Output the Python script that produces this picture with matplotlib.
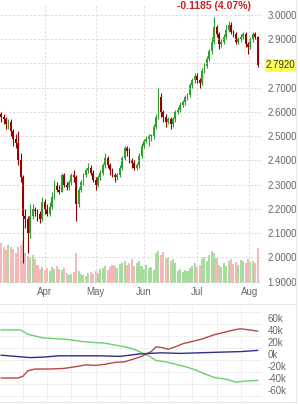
import matplotlib
matplotlib.use("Agg")
from matplotlib import pyplot as plt
from matplotlib.lines import Line2D
import numpy as np

plt.rcParams['font.family'] = ['Liberation Sans', 'DejaVu Sans']

# daily candles (index = trading day)
opens = [2.59, 2.58, 2.57, 2.55, 2.56, 2.52, 2.49, 2.47, 2.40, 2.33,
         2.17, 2.16, 2.10, 2.17, 2.20, 2.19, 2.18, 2.16, 2.23, 2.20,
         2.18, 2.21, 2.25, 2.30, 2.28, 2.27, 2.34, 2.30, 2.29, 2.31,
         2.34, 2.33, 2.22, 2.28, 2.31, 2.34, 2.36, 2.37, 2.35, 2.32,
         2.30, 2.33, 2.35, 2.38, 2.41, 2.38, 2.36, 2.34, 2.33, 2.34,
         2.37, 2.41, 2.45, 2.44, 2.40, 2.39, 2.37, 2.38, 2.42, 2.46,
         2.48, 2.49, 2.50, 2.50, 2.54, 2.58, 2.66, 2.60, 2.58, 2.56,
         2.57, 2.55, 2.57, 2.60, 2.61, 2.63, 2.64, 2.66, 2.67, 2.71,
         2.73, 2.75, 2.73, 2.72, 2.77, 2.79, 2.82, 2.85, 2.89, 2.95,
         2.92, 2.88, 2.89, 2.91, 2.94, 2.96, 2.93, 2.92, 2.89, 2.90,
         2.91, 2.92, 2.88, 2.87, 2.90, 2.92, 2.9105]
closes = [2.58, 2.57, 2.55, 2.56, 2.52, 2.49, 2.47, 2.40, 2.33, 2.17,
          2.16, 2.10, 2.17, 2.20, 2.19, 2.18, 2.16, 2.23, 2.20, 2.18,
          2.21, 2.25, 2.30, 2.28, 2.27, 2.34, 2.30, 2.29, 2.31, 2.34,
          2.33, 2.22, 2.28, 2.31, 2.34, 2.36, 2.37, 2.35, 2.32, 2.30,
          2.33, 2.35, 2.38, 2.41, 2.38, 2.36, 2.34, 2.33, 2.34, 2.37,
          2.41, 2.45, 2.44, 2.40, 2.39, 2.37, 2.38, 2.42, 2.46, 2.48,
          2.49, 2.50, 2.50, 2.54, 2.58, 2.66, 2.60, 2.58, 2.56, 2.57,
          2.55, 2.57, 2.60, 2.61, 2.63, 2.64, 2.66, 2.67, 2.71, 2.73,
          2.75, 2.73, 2.72, 2.77, 2.79, 2.82, 2.85, 2.89, 2.95, 2.92,
          2.88, 2.89, 2.91, 2.94, 2.96, 2.93, 2.92, 2.89, 2.90, 2.91,
          2.92, 2.88, 2.87, 2.90, 2.92, 2.9105, 2.792]
highs = [2.60, 2.59, 2.58, 2.57, 2.57, 2.53, 2.51, 2.52, 2.43, 2.34,
         2.20, 2.17, 2.22, 2.22, 2.21, 2.20, 2.19, 2.25, 2.24, 2.22,
         2.23, 2.27, 2.32, 2.31, 2.30, 2.35, 2.35, 2.31, 2.32, 2.35,
         2.36, 2.34, 2.29, 2.32, 2.35, 2.37, 2.39, 2.38, 2.36, 2.33,
         2.34, 2.36, 2.39, 2.43, 2.42, 2.39, 2.37, 2.35, 2.35, 2.38,
         2.42, 2.46, 2.46, 2.45, 2.41, 2.40, 2.39, 2.43, 2.47, 2.49,
         2.50, 2.51, 2.51, 2.55, 2.59, 2.70, 2.68, 2.61, 2.59, 2.58,
         2.58, 2.58, 2.61, 2.62, 2.64, 2.65, 2.67, 2.68, 2.72, 2.74,
         2.76, 2.76, 2.74, 2.78, 2.80, 2.83, 2.86, 2.91, 2.99, 2.96,
         2.93, 2.90, 2.92, 2.96, 2.975, 2.97, 2.94, 2.93, 2.91, 2.92,
         2.93, 2.93, 2.89, 2.91, 2.93, 2.93, 2.915]
lows = [2.56, 2.55, 2.53, 2.53, 2.50, 2.46, 2.45, 2.38, 2.31, 1.975,
        2.12, 2.02, 2.08, 2.16, 2.17, 2.15, 2.14, 2.15, 2.18, 2.17,
        2.17, 2.20, 2.24, 2.27, 2.26, 2.27, 2.29, 2.28, 2.28, 2.30,
        2.31, 2.15, 2.21, 2.27, 2.30, 2.33, 2.35, 2.34, 2.31, 2.28,
        2.29, 2.32, 2.34, 2.37, 2.37, 2.34, 2.33, 2.31, 2.32, 2.33,
        2.36, 2.40, 2.42, 2.39, 2.37, 2.36, 2.36, 2.37, 2.41, 2.45,
        2.47, 2.46, 2.48, 2.49, 2.53, 2.57, 2.58, 2.56, 2.54, 2.55,
        2.53, 2.54, 2.56, 2.59, 2.60, 2.62, 2.63, 2.65, 2.66, 2.70,
        2.72, 2.72, 2.70, 2.71, 2.76, 2.78, 2.81, 2.84, 2.88, 2.91,
        2.86, 2.87, 2.88, 2.90, 2.93, 2.92, 2.91, 2.88, 2.88, 2.89,
        2.90, 2.87, 2.84, 2.86, 2.89, 2.90, 2.785]
volumes = [40, 36, 33, 38, 36, 34, 30, 36, 38, 42,
           30, 27, 26, 28, 24, 18, 14, 16, 13, 15,
           12, 16, 14, 17, 14, 13, 15, 10, 8, 9,
           11, 30, 12, 9, 8, 7, 10, 11, 9, 12,
           10, 14, 15, 17, 13, 16, 18, 17, 15, 19,
           20, 22, 18, 20, 24, 17, 20, 22, 17, 14,
           18, 15, 16, 13, 30, 32, 28, 31, 25, 26,
           22, 24, 20, 12, 14, 11, 13, 12, 15, 17,
           20, 16, 18, 24, 26, 22, 28, 32, 30, 25,
           18, 16, 20, 17, 22, 24, 19, 21, 18, 23,
           22, 20, 24, 21, 22, 20, 35]

month_labels = ['Apr', 'May', 'Jun', 'Jul', 'Aug']
month_pos = [18, 39, 59, 81, 102.5]

# positioning lines in lower panel (thousands)
green_x = [0, 8, 11, 14, 17, 25, 28, 33, 39, 43, 47, 51, 55, 57, 61, 64,
           68, 72, 76, 80, 84, 88, 93, 97, 101, 106]
green_y = [40, 40, 33, 30, 27, 25, 24, 21, 19, 18, 15, 12, 8, 4, -3, -11,
           -13, -17, -21, -26, -33, -39, -42, -47, -45, -44]
red_x = [0, 7, 9, 11, 14, 20, 26, 31, 35, 39, 43, 47, 51, 55, 58, 62, 64,
         66, 69, 72, 75, 79, 83, 88, 92, 96, 99, 103, 106]
red_y = [-40, -40, -37, -28, -25, -25, -24, -21, -18, -19, -17, -14, -13,
         -8, -4, 4, 12, 11, 8, 12, 17, 21, 25, 32, 36, 40, 42, 40, 38]
blue_x = [0, 12, 18, 24, 33, 41, 49, 57, 66, 74, 82, 90, 99, 106]
blue_y = [-2, -6, -5, -3, -3, -3, -4, 0, 2, 1, 2, 3, 4, 6]

W, H = 300, 404
fig = plt.figure(figsize=(W / 100, H / 100), dpi=100)
fig.patch.set_facecolor('white')

def px_box(x0, y0, x1, y1):
    return [x0 / W, 1 - y1 / H, (x1 - x0) / W, (y1 - y0) / H]

grey = '#666666'
grid_c = '#d8d8d8'
up_c, dn_c = '#2ea02e', '#990000'
vup_c, vdn_c = '#a6dd9e', '#f5b8b8'

ax = fig.add_axes(px_box(0, 5, 262, 283))
axv = ax.twinx()
ax.set_zorder(axv.get_zorder() + 1)
ax.patch.set_visible(False)

idx = np.arange(len(closes))
o = np.array(opens)
c = np.array(closes)
up = c >= o

axv.bar(idx, volumes, width=0.85, color=[vup_c if u else vdn_c for u in up])
axv.set_ylim(0, 278)
axv.set_yticks([])

ax.vlines(idx, lows, highs, colors=[up_c if u else dn_c for u in up], lw=0.8)
body = np.maximum(np.abs(c - o), 0.003)
ax.bar(idx, body, bottom=np.minimum(o, c), width=0.75,
       color=[up_c if u else dn_c for u in up], edgecolor='none')

last = closes[-1]
ax.set_xlim(-0.5, 107.8)
ax.set_ylim(1.8944, 3.0413)
ax.yaxis.tick_right()
yt = np.round(np.arange(1.9, 3.01, 0.1), 1)
ax.set_yticks(yt)
# the tick next to the last price is hidden behind the price tag
ax.set_yticklabels(['' if abs(v - last) < 0.04 else f'{v:.4f}' for v in yt])
ax.set_xticks(month_pos)
ax.set_xticklabels(month_labels)
ax.tick_params(axis='both', length=0, labelsize=7, colors=grey)
ax.tick_params(axis='y', pad=4)
ax.tick_params(axis='x', pad=3)
for lab in ax.get_yticklabels():
    lab.set_horizontalalignment('left')
ax.grid(True, color=grid_c, ls=(0, (3, 2)), lw=0.6)
for a in (ax, axv):
    for s in a.spines.values():
        s.set_visible(False)

ax.text(1.0 + 4 / 262, last, f'{last:.4f}', transform=ax.get_yaxis_transform(),
        ha='left', va='center', fontsize=7, color='#333333',
        bbox=dict(boxstyle='square,pad=0.15', fc='#ffff55', ec='none'))

chg = closes[-1] - closes[-2]
pct = abs(chg) / closes[-2] * 100
fig.text(214 / W, 1 - 6 / H, f'{chg:.4f} ({pct:.2f}%)', ha='center', va='center',
         fontsize=7.5, fontweight='bold', color='#cc2222')

# lower panel
ax2 = fig.add_axes(px_box(0, 306, 262, 402))
ax2.plot(green_x, green_y, color='#6ccf6c', lw=1)
ax2.plot(red_x, red_y, color='#b84848', lw=1)
ax2.plot(blue_x, blue_y, color='#2e2e8e', lw=1)
ax2.set_xlim(-0.5, 107.8)
ax2.set_ylim(-80, 80)
ax2.yaxis.tick_right()
ax2.set_yticks(range(-60, 61, 20))
ax2.set_yticklabels([f'{v}k' for v in range(-60, 61, 20)])
for lab in ax2.get_yticklabels():
    lab.set_horizontalalignment('left')
ax2.set_yticks(range(-70, 71, 10), minor=True)
ax2.set_xticks(np.arange(9, 107, 10), minor=True)
ax2.set_xticks([])
ax2.tick_params(axis='both', which='both', length=0, labelsize=7, colors=grey)
ax2.tick_params(axis='y', pad=4)
ax2.grid(True, which='minor', color=grid_c, ls=(0, (2, 2)), lw=0.5)
for s in ax2.spines.values():
    s.set_visible(False)

# panel separators
fig.add_artist(Line2D([0, 296 / W], [1 - 304 / H] * 2, color='#e6e6e6', lw=0.8))
fig.add_artist(Line2D([0, 296 / W], [1 - 402 / H] * 2, color='#e6e6e6', lw=0.8))
fig.add_artist(Line2D([296 / W] * 2, [0, 1], color='#e6e6e6', lw=0.8))

fig.savefig('out.png', dpi=100)
